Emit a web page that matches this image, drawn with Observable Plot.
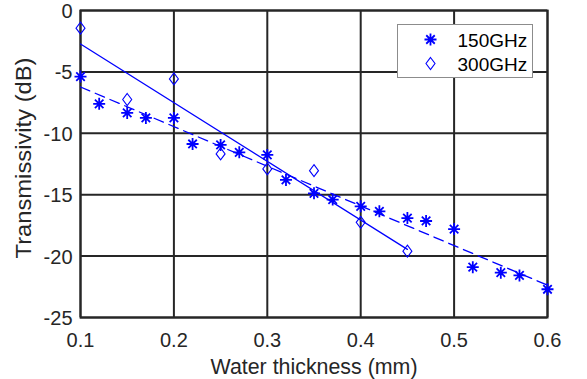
<!DOCTYPE html>
<html>
<head>
<meta charset="utf-8">
<script src="https://cdn.jsdelivr.net/npm/d3@7"></script>
<script src="https://cdn.jsdelivr.net/npm/@observablehq/plot@0.6"></script>
<style>
  html, body { margin: 0; padding: 0; background: #fff; }
  #chart { width: 587px; height: 379px; }
</style>
</head>
<body>
<div id="chart"></div>
<script>
// Data
const series = ["150GHz", "300GHz"];
const x150 = [0.10, 0.12, 0.15, 0.17, 0.20, 0.22, 0.25, 0.27, 0.30, 0.32, 0.35, 0.37, 0.40, 0.42, 0.45, 0.47, 0.50, 0.52, 0.55, 0.57, 0.60];
const y150 = [-5.38, -7.6, -8.34, -8.75, -8.75, -10.87, -10.95, -11.55, -11.76, -13.8, -14.89, -15.4, -15.95, -16.35, -16.9, -17.14, -17.8, -20.9, -21.35, -21.57, -22.7];
const x300 = [0.10, 0.15, 0.20, 0.25, 0.30, 0.35, 0.40, 0.45];
const y300 = [-1.44, -7.25, -5.57, -11.68, -12.9, -13.04, -17.25, -19.6];
const xTicks = [0.1, 0.2, 0.3, 0.4, 0.5, 0.6];
const yTicks = [0, -5, -10, -15, -20, -25];
const xLabel = "Water thickness (mm)";
const yLabel = "Transmissivity (dB)";

const d150 = x150.map((x, i) => ({x, y: y150[i], s: series[0]}));
const d300 = x300.map((x, i) => ({x, y: y300[i], s: series[1]}));

const blue = "#0000ff";
const ink = "#262626";
const font = "'Liberation Sans', Arial, Helvetica, sans-serif";

// MATLAB-like markers
const asterisk = {
  draw(ctx, size) {
    const r = Math.sqrt(size / Math.PI);
    const d = r * Math.SQRT1_2;
    ctx.moveTo(-r, 0); ctx.lineTo(r, 0);
    ctx.moveTo(0, -r); ctx.lineTo(0, r);
    ctx.moveTo(-d, -d); ctx.lineTo(d, d);
    ctx.moveTo(-d, d); ctx.lineTo(d, -d);
  }
};
const diamond = {
  draw(ctx, size) {
    const r = Math.sqrt(size / Math.PI);
    const w = r * 0.75;
    ctx.moveTo(0, -r); ctx.lineTo(w, 0); ctx.lineTo(0, r); ctx.lineTo(-w, 0); ctx.closePath();
  }
};

const chart = Plot.plot({
  width: 587,
  height: 379,
  marginLeft: 80,
  marginRight: 40,
  marginTop: 10,
  marginBottom: 62,
  style: {fontFamily: font, fontSize: "20px", color: ink, background: "#fff"},
  x: {domain: [0.1, 0.6], ticks: xTicks},
  y: {domain: [-25, 0], ticks: yTicks},
  marks: [
    Plot.gridX(xTicks, {stroke: ink, strokeOpacity: 1, strokeWidth: 2}),
    Plot.gridY(yTicks, {stroke: ink, strokeOpacity: 1, strokeWidth: 2}),
    Plot.frame({stroke: ink, strokeWidth: 2}),
    Plot.axisX(xTicks, {tickSize: 0, tickPadding: 15, label: null, fill: ink, fontSize: 20, tickFormat: d => d.toFixed(1)}),
    Plot.axisY(yTicks, {tickSize: 0, tickPadding: 8, dy: 1, label: null, fill: ink, fontSize: 20, tickFormat: d => `${d}`}),
    Plot.text([xLabel], {frameAnchor: "bottom", lineAnchor: "middle", dy: 50, fill: ink, fontSize: 21.5, className: "xlab"}),
    Plot.text([yLabel], {frameAnchor: "left", lineAnchor: "middle", dx: -56, dy: -6, rotate: -90, textAnchor: "middle", fill: ink, fontSize: 21.5, className: "ylab"}),
    Plot.linearRegressionY(d150, {x: "x", y: "y", stroke: blue, strokeWidth: 1.3, strokeDasharray: "10,6", ci: 0}),
    Plot.linearRegressionY(d300, {x: "x", y: "y", stroke: blue, strokeWidth: 1.3, ci: 0}),
    Plot.dot(d150, {x: "x", y: "y", r: 6, symbol: asterisk, stroke: blue, strokeWidth: 1.8, fill: "none"}),
    Plot.dot(d300, {x: "x", y: "y", r: 6, symbol: diamond, stroke: blue, strokeWidth: 1.1, fill: "none"})
  ]
});

document.getElementById("chart").appendChild(chart);

const svg = d3.select(chart);
// stretch axis titles to the reference's wider lettering
svg.selectAll("g.xlab text").attr("textLength", 207).attr("lengthAdjust", "spacingAndGlyphs");
svg.selectAll("g.ylab text").attr("textLength", 201).attr("lengthAdjust", "spacingAndGlyphs");

// Legend (MATLAB style box, upper right)
const lg = svg.append("g").attr("text-anchor", "start");
lg.append("rect").attr("x", 397.5).attr("y", 24.5).attr("width", 135).attr("height", 53)
  .attr("fill", "#fff").attr("stroke", "#8c8c8c").attr("stroke-width", 1);
const syms = [asterisk, diamond];
const widths = [1.8, 1.1];
series.forEach((name, i) => {
  const cy = 39.5 + i * 24;
  const p = d3.path();
  syms[i].draw(p, 36 * Math.PI);
  lg.append("path").attr("d", p.toString()).attr("transform", `translate(430.5,${cy})`)
    .attr("fill", "none").attr("stroke", blue).attr("stroke-width", widths[i]);
  lg.append("text").attr("x", 457.5).attr("y", cy + 7).text(name)
    .attr("fill", "#000").attr("font-size", 19).attr("font-family", font);
});
</script>
</body>
</html>
